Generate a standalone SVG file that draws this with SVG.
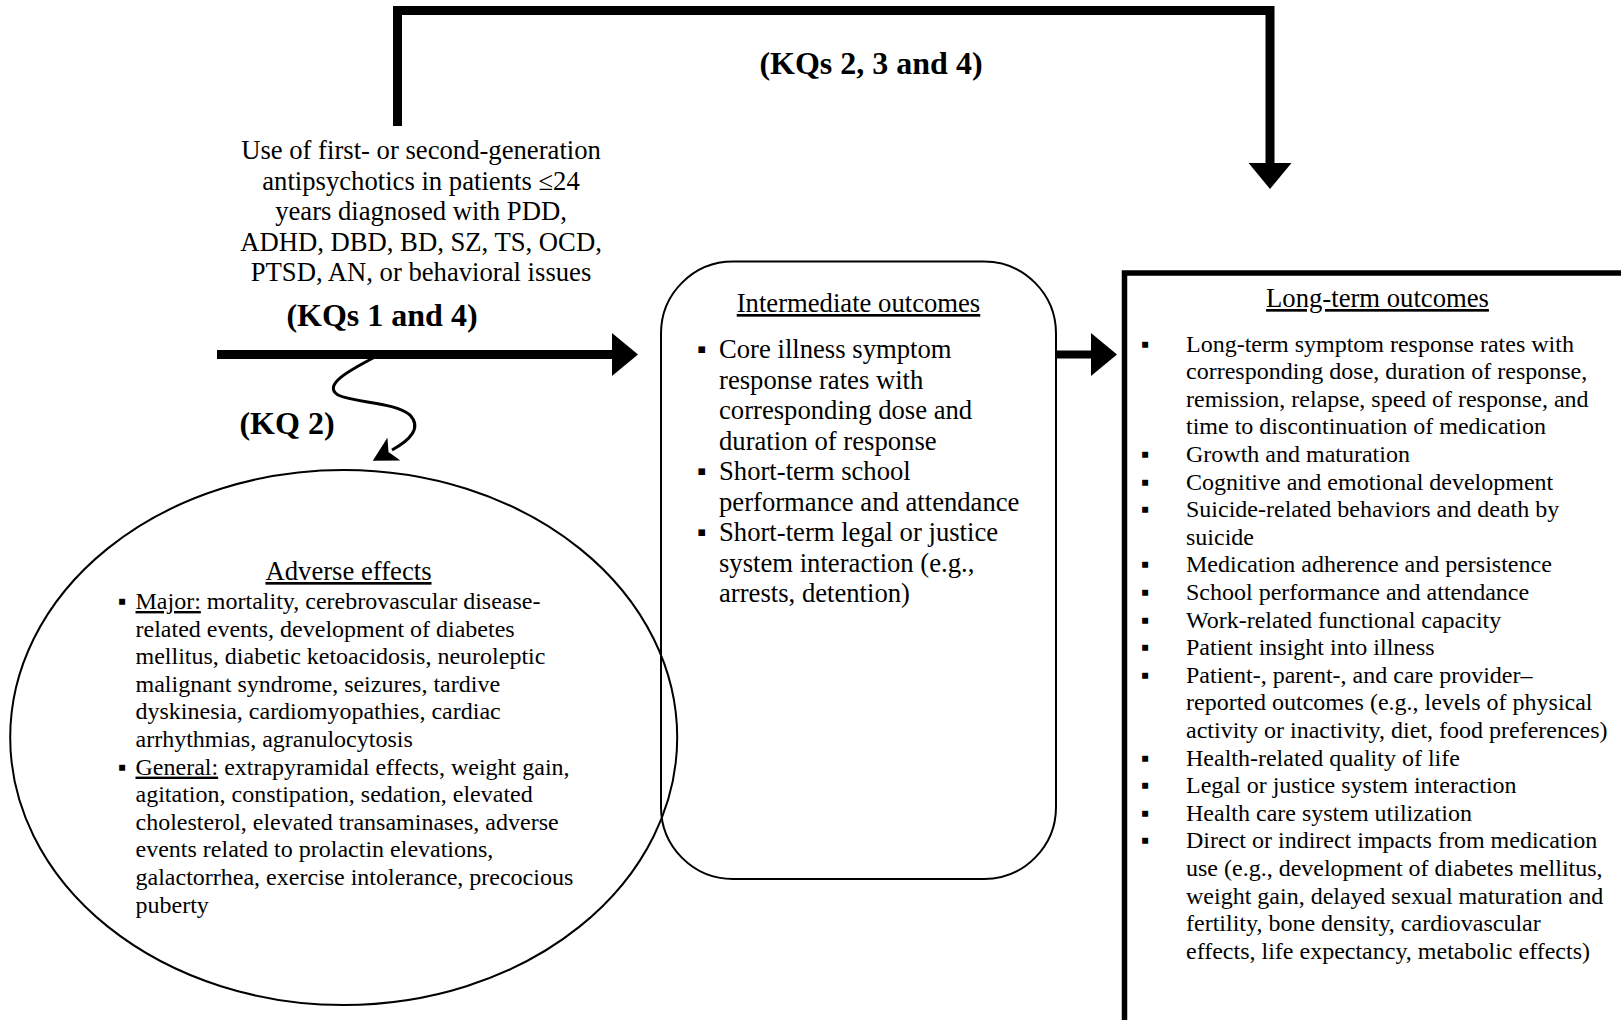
<svg xmlns="http://www.w3.org/2000/svg" width="1621" height="1020" viewBox="0 0 1621 1020">
<defs>
<style>
text{font-family:"Liberation Serif","Times New Roman",serif;fill:#000}
.t20{font-size:26.67px}
.t18{font-size:24px}
.kq{font-size:32px;font-weight:bold}
.ul{text-decoration:underline}
.mid{text-anchor:middle}
.thick{fill:none;stroke:#000;stroke-width:9;stroke-linejoin:miter}
.node{fill:none;stroke:#000;stroke-width:2}
</style>
<marker id="big" markerUnits="userSpaceOnUse" markerWidth="26" markerHeight="43" viewBox="0 0 26 43" refX="0" refY="21.5" orient="auto">
<path d="M0,0 L26,21.5 L0,43 Z" fill="#000"/>
</marker>
<marker id="small" markerUnits="userSpaceOnUse" markerWidth="24" markerHeight="26" viewBox="0 0 24 26" refX="2" refY="13" orient="auto">
<path d="M0,0 L24,13 L0,26 L6,13 Z" fill="#000"/>
</marker>
</defs>
<rect width="1621" height="1020" fill="#fff"/>

<g id="connectors">
<path class="thick" d="M397.5,126 V10.5 H1270 V163" marker-end="url(#big)"/>
<path class="thick" d="M217,354.5 H612" marker-end="url(#big)"/>
<path class="thick" style="stroke-width:8" d="M1056,354.5 H1091" marker-end="url(#big)"/>
<path d="M375,357 C350,370 322,385 338,395 C355,403 395,402 410,415 C422,428 410,440 392,450" fill="none" stroke="#000" stroke-width="3" marker-end="url(#small)"/>
</g>

<g id="labels">
<text class="kq" x="871" y="74" text-anchor="middle">(KQs 2, 3 and 4)</text>
<text class="kq" x="382" y="326" text-anchor="middle">(KQs 1 and 4)</text>
<text class="kq" x="287" y="434" text-anchor="middle">(KQ 2)</text>
</g>

<g id="source">
<text class="t20 mid" x="421" y="159">Use of first- or second-generation</text>
<text class="t20 mid" x="421" y="189.5">antipsychotics in patients ≤24</text>
<text class="t20 mid" x="421" y="220">years diagnosed with PDD,</text>
<text class="t20 mid" x="421" y="250.5">ADHD, DBD, BD, SZ, TS, OCD,</text>
<text class="t20 mid" x="421" y="281">PTSD, AN, or behavioral issues</text>
</g>

<g id="intermediate">
<rect class="node" x="661" y="261.5" width="395" height="617.5" rx="72" ry="72"/>
<text class="t20 mid ul" x="858.5" y="312">Intermediate outcomes</text>
<text class="t20" x="697" y="358">▪</text>
<text class="t20" x="697" y="480">▪</text>
<text class="t20" x="697" y="541">▪</text>
<text class="t20" x="719" y="358">Core illness symptom</text>
<text class="t20" x="719" y="388.5">response rates with</text>
<text class="t20" x="719" y="419">corresponding dose and</text>
<text class="t20" x="719" y="449.5">duration of response</text>
<text class="t20" x="719" y="480">Short-term school</text>
<text class="t20" x="719" y="510.5">performance and attendance</text>
<text class="t20" x="719" y="541">Short-term legal or justice</text>
<text class="t20" x="719" y="571.5">system interaction (e.g.,</text>
<text class="t20" x="719" y="602">arrests, detention)</text>
</g>

<g id="longterm">
<path d="M1124.5,1030 V273 H1630" fill="none" stroke="#000" stroke-width="5.5"/>
<text class="t20 mid ul" x="1377.5" y="307">Long-term outcomes</text>
<g class="t18">
<text x="1141" y="351.5">▪</text>
<text x="1141" y="461.9">▪</text>
<text x="1141" y="489.5">▪</text>
<text x="1141" y="517.1">▪</text>
<text x="1141" y="572.3">▪</text>
<text x="1141" y="599.9">▪</text>
<text x="1141" y="627.5">▪</text>
<text x="1141" y="655.1">▪</text>
<text x="1141" y="682.7">▪</text>
<text x="1141" y="765.5">▪</text>
<text x="1141" y="793.1">▪</text>
<text x="1141" y="820.7">▪</text>
<text x="1141" y="848.3">▪</text>
<text x="1186" y="351.5">Long-term symptom response rates with</text>
<text x="1186" y="379.1">corresponding dose, duration of response,</text>
<text x="1186" y="406.7">remission, relapse, speed of response, and</text>
<text x="1186" y="434.3">time to discontinuation of medication</text>
<text x="1186" y="461.9">Growth and maturation</text>
<text x="1186" y="489.5">Cognitive and emotional development</text>
<text x="1186" y="517.1">Suicide-related behaviors and death by</text>
<text x="1186" y="544.7">suicide</text>
<text x="1186" y="572.3">Medication adherence and persistence</text>
<text x="1186" y="599.9">School performance and attendance</text>
<text x="1186" y="627.5">Work-related functional capacity</text>
<text x="1186" y="655.1">Patient insight into illness</text>
<text x="1186" y="682.7">Patient-, parent-, and care provider–</text>
<text x="1186" y="710.3">reported outcomes (e.g., levels of physical</text>
<text x="1186" y="737.9">activity or inactivity, diet, food preferences)</text>
<text x="1186" y="765.5">Health-related quality of life</text>
<text x="1186" y="793.1">Legal or justice system interaction</text>
<text x="1186" y="820.7">Health care system utilization</text>
<text x="1186" y="848.3">Direct or indirect impacts from medication</text>
<text x="1186" y="875.9">use (e.g., development of diabetes mellitus,</text>
<text x="1186" y="903.5">weight gain, delayed sexual maturation and</text>
<text x="1186" y="931.1">fertility, bone density, cardiovascular</text>
<text x="1186" y="958.7">effects, life expectancy, metabolic effects)</text>
</g>
</g>

<g id="adverse">
<ellipse class="node" cx="343.7" cy="737.5" rx="333.5" ry="267.5"/>
<text class="t20 mid ul" x="348.5" y="580">Adverse effects</text>
<g class="t18">
<text x="118" y="609">▪</text>
<text x="118" y="774.6">▪</text>
<text x="135.5" y="609"><tspan class="ul">Major:</tspan> mortality, cerebrovascular disease-</text>
<text x="135.5" y="636.6">related events, development of diabetes</text>
<text x="135.5" y="664.2">mellitus, diabetic ketoacidosis, neuroleptic</text>
<text x="135.5" y="691.8">malignant syndrome, seizures, tardive</text>
<text x="135.5" y="719.4">dyskinesia, cardiomyopathies, cardiac</text>
<text x="135.5" y="747">arrhythmias, agranulocytosis</text>
<text x="135.5" y="774.6"><tspan class="ul">General:</tspan> extrapyramidal effects, weight gain,</text>
<text x="135.5" y="802.2">agitation, constipation, sedation, elevated</text>
<text x="135.5" y="829.8">cholesterol, elevated transaminases, adverse</text>
<text x="135.5" y="857.4">events related to prolactin elevations,</text>
<text x="135.5" y="885">galactorrhea, exercise intolerance, precocious</text>
<text x="135.5" y="912.6">puberty</text>
</g>
</g>
</svg>
